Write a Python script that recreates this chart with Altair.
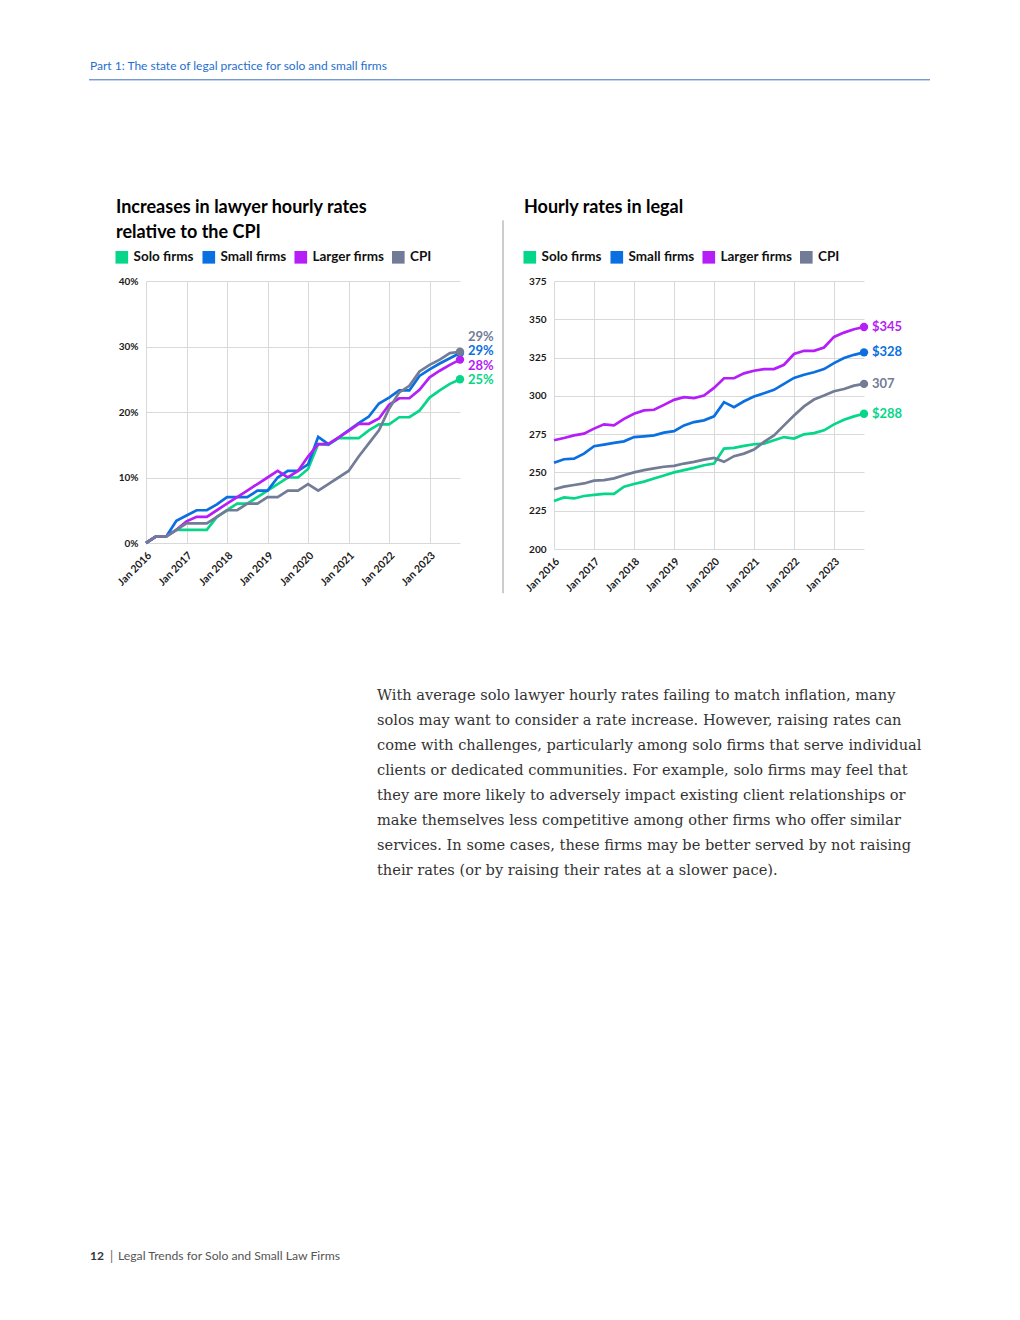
import altair as alt
import pandas as pd

FONT = "Lato"
SERIF = "DejaVu Serif"

SERIES = ["Solo firms", "Small firms", "Larger firms", "CPI"]
COLORS = ["#05D68A", "#0A6FE0", "#B51EF6", "#737C97"]

# quarterly observations, Jan 2016 .. Oct 2023 (fractional years)
QUARTERS = [2016 + q / 4 for q in range(32)]
YEAR_TICKS = [2016, 2017, 2018, 2019, 2020, 2021, 2022, 2023]

# Left chart: % increase since Jan 2016
SOLO_PCT = [0, 1, 1, 2, 2, 2, 2, 4, 5, 6, 6, 7, 8, 9, 10, 10, 11.3, 15.1, 15, 16, 16, 16,
            17.2, 18.1, 18.1, 19.2, 19.2, 20.2, 22.2, 23.3, 24.3, 25]
SMALL_PCT = [0, 1, 1, 3.4, 4.2, 5, 5, 5.9, 7, 7, 7, 8, 8, 10, 11, 11, 12, 16.2, 15.1, 16.1,
             17.2, 18.3, 19.3, 21.3, 22.2, 23.3, 23.3, 25.5, 26.5, 27.4, 28.2, 29]
LARGER_PCT = [0, 1, 1, 2, 3.3, 4, 4, 5, 6, 7, 8, 9, 10, 11, 10, 11, 13.2, 15.1, 15.1, 16.1,
              17.1, 18.2, 18.2, 19, 21.1, 22.1, 22.1, 23.4, 25.3, 26.3, 27.2, 28]
CPI_PCT = [0, 1, 1, 2, 3, 3, 3, 4, 5, 5, 6, 6, 7, 7, 8, 8, 9, 8, 9, 10, 11, 13.2, 15.2, 17.2,
           20.5, 23, 24, 26.2, 27.2, 28, 29, 29.2]
LEFT_END_LABELS = ["25%", "29%", "28%", "29%"]
LEFT_Y_TICKS = [0, 10, 20, 30, 40]

# Right chart: hourly rates (CPI indexed)
SOLO_RATE = [231.4, 233.7, 233, 234.6, 235.3, 236, 236, 240.7, 242.4, 244, 246, 248, 250,
             251.5, 253, 254.7, 255.8, 265.6, 266, 267.3, 268.4, 268.8, 271, 273.1, 272.1,
             274.9, 275.7, 277.5, 281.4, 284.4, 286.6, 288.3]
SMALL_RATE = [256.3, 258.6, 259, 262.3, 267.1, 268.2, 269.3, 270.3, 273.1, 273.6, 274.2, 276,
              277, 280.7, 282.9, 284, 286.6, 295.9, 292.6, 296.5, 299.6, 301.7, 303.9, 307.8,
              311.7, 313.8, 315.4, 317.5, 321.4, 324.7, 326.8, 328.4]
LARGER_RATE = [271, 272.5, 274.2, 275.3, 278.6, 281.4, 280.7, 285, 288.3, 290.5, 290.9, 294.1,
               297.4, 299.1, 298.5, 300.2, 305.2, 311.5, 311.5, 314.7, 316.4, 317.5, 317.5,
               320.3, 327.3, 329.4, 329.4, 331.6, 338.5, 341.3, 343.5, 345]
CPI_RATE = [239, 240.7, 241.8, 242.8, 244.6, 245, 246.1, 248.2, 250, 251.5, 252.6, 253.7,
            254.3, 255.8, 256.9, 258.4, 259.5, 256.9, 260.6, 262.3, 264.9, 269.9, 274.2,
            280.7, 287.2, 293.1, 297.6, 300.2, 303, 304.5, 306.7, 307.8]
RIGHT_END_LABELS = ["$288", "$328", "$345", "307"]
RIGHT_Y_TICKS = [200, 225, 250, 275, 300, 325, 350, 375]

HEADER = "Part 1: The state of legal practice for solo and small firms"
LEFT_TITLE = ["Increases in lawyer hourly rates", "relative to the CPI"]
RIGHT_TITLE = ["Hourly rates in legal"]
PARAGRAPH = [
    "With average solo lawyer hourly rates failing to match inflation, many",
    "solos may want to consider a rate increase. However, raising rates can",
    "come with challenges, particularly among solo firms that serve individual",
    "clients or dedicated communities. For example, solo firms may feel that",
    "they are more likely to adversely impact existing client relationships or",
    "make themselves less competitive among other firms who offer similar",
    "services. In some cases, these firms may be better served by not raising",
    "their rates (or by raising their rates at a slower pace).",
]
PAGE_NO = "12"
FOOTER = "Legal Trends for Solo and Small Law Firms"

# legend entry offsets (left edge of each swatch, px from the plot's left edge)
LEGEND_OFFSETS = [-30.5, 56.5, 148.5, 246]


def long_df(series_values):
    rows = []
    for name, vals in zip(SERIES, series_values):
        for t, v in zip(QUARTERS, vals):
            rows.append({"series": name, "t": t, "v": v})
    return pd.DataFrame(rows)


def end_df(series_values, labels):
    return pd.DataFrame({
        "series": SERIES,
        "t": [QUARTERS[-1]] * len(SERIES),
        "v": [vals[-1] for vals in series_values],
        "label": labels,
    })


def text_layer(text, x, y, size, color, weight="normal", font=FONT, line_height=None,
               baseline="alphabetic"):
    kw = dict(align="left", baseline=baseline, font=font, fontSize=size,
              fontWeight=weight, color=color, text=text)
    if line_height is not None:
        kw["lineHeight"] = line_height
    return alt.Chart(pd.DataFrame({"k": [0]})).mark_text(**kw).encode(
        x=alt.value(x), y=alt.value(y))


def legend_layers():
    out = []
    ly = -23.7
    for name, col, off in zip(SERIES, COLORS, LEGEND_OFFSETS):
        out.append(alt.Chart(pd.DataFrame({"k": [0]})).mark_square(
            size=160, filled=True, opacity=1, color=col).encode(
            x=alt.value(off + 6.3), y=alt.value(ly)))
        out.append(text_layer(name, off + 18, ly, 13.5, "#111111", weight="bold",
                              baseline="middle"))
    return out


def panel(values, labels, ydomain, yticks, ylabel_expr, width, height, label_dys,
          title_lines, extra_layers):
    df = long_df(values)
    ends = end_df(values, labels)
    color_scale = alt.Scale(domain=SERIES, range=COLORS)
    x = alt.X("t:Q",
              scale=alt.Scale(domain=[2016, 2023.75], nice=False, zero=False),
              axis=alt.Axis(values=YEAR_TICKS, labelExpr="'Jan ' + datum.value",
                            labelAngle=315, labelAlign="right", labelBaseline="top",
                            labelPadding=7, title=None, grid=True, ticks=False,
                            domain=False, labelFontSize=10.5))
    y = alt.Y("v:Q", scale=alt.Scale(domain=ydomain, nice=False, zero=False),
              axis=alt.Axis(values=yticks, labelExpr=ylabel_expr, title=None,
                            grid=True, ticks=False, domain=False, labelPadding=8))
    color = alt.Color("series:N", scale=color_scale, legend=None)
    lines = alt.Chart(df).mark_line(strokeWidth=2.7).encode(
        x=x, y=y, color=color, detail="series:N")
    dots = alt.Chart(ends).mark_circle(size=70, opacity=1).encode(x=x, y=y, color=color)
    layers = [lines, dots]
    for s, dy in zip(SERIES, label_dys):
        layers.append(
            alt.Chart(ends).transform_filter(alt.datum.series == s).mark_text(
                align="left", baseline="middle", dx=8, dy=dy, font=FONT, fontSize=13,
                fontWeight="bold").encode(x=x, y=y, text="label:N", color=color))
    layers.append(text_layer(title_lines, -30, -67.7, 18, "#000000", weight="bold",
                             line_height=25))
    layers.extend(legend_layers())
    layers.extend(extra_layers)
    return alt.layer(*layers).properties(width=width, height=height)


one = pd.DataFrame({"k": [0]})
left_extras = [
    # layout anchor at the page's top-left corner
    alt.Chart(one).mark_rule(strokeOpacity=0, strokeWidth=1).encode(
        x=alt.value(-138), x2=alt.value(-137), y=alt.value(-272.7)),
    text_layer(HEADER, -56, -210.7, 12, "#1F6FD0"),
    alt.Chart(one).mark_rule(color="#3D6FB6", strokeWidth=1).encode(
        x=alt.value(-57), x2=alt.value(784), y=alt.value(-201.2)),
    alt.Chart(one).mark_rule(color="#9A9A9A", strokeWidth=1).encode(
        x=alt.value(357), y=alt.value(-60.7), y2=alt.value(312.3)),
    text_layer(PARAGRAPH, 231, 418.8, 14.6, "#333333", font=SERIF, line_height=25),
    text_layer(PAGE_NO, -56, 979.3, 12, "#333333", weight="bold"),
    text_layer("|", -36, 979.8, 12.5, "#666666"),
    text_layer(FOOTER, -28, 979.3, 12.2, "#555555"),
]

left = panel([SOLO_PCT, SMALL_PCT, LARGER_PCT, CPI_PCT], LEFT_END_LABELS, [0, 40],
             LEFT_Y_TICKS, "datum.value + '%'", 314, 262, [1, -2.4, 6.5, -15],
             LEFT_TITLE, left_extras)
right = panel([SOLO_RATE, SMALL_RATE, LARGER_RATE, CPI_RATE], RIGHT_END_LABELS, [200, 375],
              RIGHT_Y_TICKS, "datum.value", 310, 268, [0, 0, 0, 0], RIGHT_TITLE, [])

chart = alt.hconcat(left, right, spacing=94, bounds="flush").resolve_scale(
    color="independent").properties(padding=0).configure_view(
    stroke=None).configure_axis(
    labelFont=FONT, labelFontSize=10, labelFontWeight="bold", labelColor="#1A1A1A",
    gridColor="#D9D9D9", gridWidth=1)

chart.save("out.html", embed_options={"renderer": "svg", "actions": False})
